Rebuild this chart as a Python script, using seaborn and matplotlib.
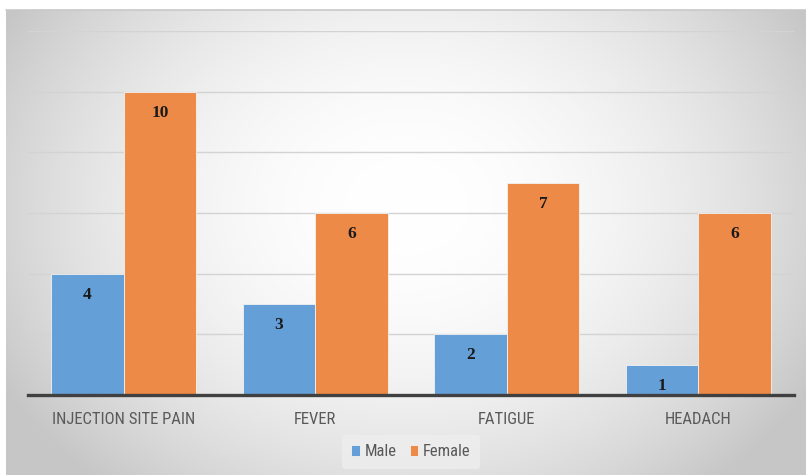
import numpy as np
import pandas as pd
import matplotlib
matplotlib.use("Agg")
import matplotlib.pyplot as plt
import seaborn as sns
from matplotlib import font_manager

# Side-effect counts by sex
categories = ["INJECTION SITE PAIN", "FEVER", "FATIGUE", "HEADACH"]
male = [4, 3, 2, 1]
female = [10, 6, 7, 6]
series_names = ["Male", "Female"]
colors = ["#649FD8", "#EE8A47"]

df = pd.DataFrame({
    "symptom": categories * 2,
    "sex": [series_names[0]] * len(categories) + [series_names[1]] * len(categories),
    "count": male + female,
})

sns.set_theme(style="white")

# Pick a narrow sans face for the axis and legend text
label_font = "DejaVu Sans"
label_stretch = "condensed"
names = {f.name for f in font_manager.fontManager.ttflist}
for cand in ["Roboto Condensed", "Liberation Sans Narrow", "Open Sans Condensed"]:
    if cand in names:
        label_font, label_stretch = cand, "normal"
        break
label_props = font_manager.FontProperties(family=label_font, stretch=label_stretch, size=12)
legend_props = font_manager.FontProperties(family=label_font, stretch=label_stretch, size=12)
value_font = "Liberation Serif"

W, H = 806, 475
fig = plt.figure(figsize=(W / 100, H / 100), dpi=100)
fig.patch.set_facecolor("white")

# Chart panel with a soft radial shading
bg = fig.add_axes([6 / W, 0, (W - 6) / W, (H - 10) / H])
ny, nx = 300, 500
yy, xx = np.mgrid[0:ny, 0:nx]
cx, cy = nx * 0.5, ny * 0.42
r2 = ((xx - cx) / (nx * 0.55)) ** 2 + ((yy - cy) / (ny * 0.75)) ** 2
shade = np.clip(1.0 - 0.20 * r2, 0.78, 1.0)
bg.imshow(np.dstack([shade] * 3), aspect="auto", extent=[0, 1, 0, 1], origin="upper")
bg.set_axis_off()
bg.plot([0, 1], [1, 1], color="#c8c8c8", lw=1.2, transform=bg.transAxes, clip_on=False)

ax = fig.add_axes([28 / W, (H - 395) / H, (794 - 28) / W, (395 - 31) / H])
ax.patch.set_alpha(0)
for y in range(2, 13, 2):
    ax.axhline(y, color="#d3d3d3", lw=1.0, zorder=0)

sns.barplot(data=df, x="symptom", y="count", hue="sex", palette=colors,
            width=0.755, gap=0, saturation=1, edgecolor="#f2f2f2", linewidth=0.6,
            ax=ax, zorder=2)

ax.set_ylim(0, 12)
ax.set_xlim(-0.5, len(categories) - 0.5)
ax.set_xlabel("")
ax.set_ylabel("")
ax.set_yticks([])
for s in ["top", "left", "right"]:
    ax.spines[s].set_visible(False)
ax.spines["bottom"].set_color("#404040")
ax.spines["bottom"].set_linewidth(2.4)
ax.tick_params(axis="x", length=0, pad=12)
for t in ax.get_xticklabels():
    t.set_fontproperties(label_props)
    t.set_color("#595959")

# Value labels just inside the top of each bar
for cont in ax.containers:
    for rect in cont:
        v = rect.get_height()
        ax.annotate(f"{int(v)}", (rect.get_x() + rect.get_width() / 2, v),
                    xytext=(0, -21), textcoords="offset pixels",
                    ha="center", va="center", fontsize=12.5, fontweight="bold",
                    fontfamily=value_font, color="#1a1a1a", zorder=4)

leg = ax.legend(loc="center", bbox_to_anchor=(0.5, (452 - 395) / -(395 - 31)),
                ncol=2, frameon=True, handlelength=0.5, handleheight=0.65,
                handletextpad=0.3, columnspacing=0.8, borderpad=0.55,
                prop=legend_props)
leg.get_frame().set_facecolor("#eeeeee")
leg.get_frame().set_edgecolor("none")
leg.get_frame().set_alpha(0.8)
for t in leg.get_texts():
    t.set_color("#595959")

fig.savefig("out.png", dpi=100)
